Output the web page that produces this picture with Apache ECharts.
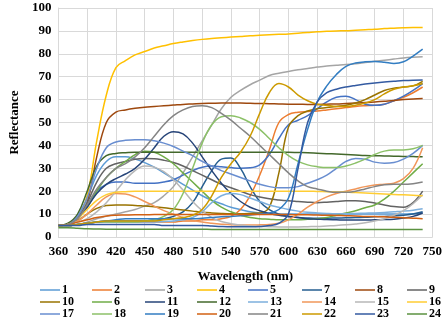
<!DOCTYPE html>
<html>
<head>
<meta charset="utf-8">
<script src="https://cdn.jsdelivr.net/npm/echarts@6/dist/echarts.min.js"></script>
<style>
  html, body { margin: 0; padding: 0; background: #fff; }
  #chart { width: 445px; height: 322px; }
</style>
</head>
<body>
<div id="chart"></div>
<script>
const wavelengths = [360,370,380,390,400,410,420,430,440,450,460,470,480,490,500,510,520,530,540,550,560,570,580,590,600,610,620,630,640,650,660,670,680,690,700,710,720,730,740]

const s1 = [5,5.5,9,17,27,33,35,35,34,32.5,30.5,28,25.5,23,20.5,18,16,14.5,13,12,11,10.5,10.2,10,10,10,10,10,10,10,10,10,10,10,10,10,10,10.2,10.5]
const s2 = [5,5,5.5,6,6.5,6.5,6.5,6.5,6.5,6.5,6.5,6.5,6.5,7,7,7.5,7.5,8,9,12,18,27,38,50,53.5,54.5,54.8,55,55.5,56,56.5,57,57.3,57.5,58,59.5,61,63,65.5]
const s3 = [5,5,5.5,6.5,8,9,10,11,12,13.5,15,18,22,28,35,42,49,56,61,64,66.5,68.5,70.5,71.5,72.3,73,73.6,74.2,74.7,75,75.3,75.7,76.2,76.7,77.2,77.7,78.2,78.5,78.7]
const s4 = [5,5.5,8,18,42,62,74,77,79.5,81,82.5,83.5,84.5,85.2,85.8,86.3,86.7,87,87.3,87.6,87.9,88.1,88.3,88.5,88.7,89,89.3,89.6,89.8,90,90.1,90.3,90.5,90.7,91,91.2,91.4,91.5,91.5]
const s5 = [5,5.5,8,14,20,23,24,24,23.5,23.5,23.5,24,25,27,29,30.5,31,30.7,30.3,30,30.2,31.5,36,43,49,51,53,56,59,61,61.5,60,58,57.5,58,59.5,61.5,64,67]
const s6 = [5,5.5,8,13,20,26,30,33,36,37.5,37,35,32,28,24,20,16,13,11,9.5,8.5,8,7.8,7.5,7.5,7.5,7.7,8,8.5,9.5,10.5,11.5,12.8,14,16.5,20,24,28,32]
const s7 = [5,5,5.5,6,6.5,7,7,7,7,7,7.5,8,9,11,15,22,29,34,34.5,30,22,15.5,12,10,9,8.5,8.3,8.2,8.2,8.3,8.4,8.5,8.6,8.8,9,9.2,9.5,10,11]
const s8 = [5,5.5,7.5,15,35,50,54.5,55.5,56.2,56.7,57,57.3,57.6,57.9,58.1,58.3,58.4,58.5,58.5,58.5,58.4,58.3,58.2,58.1,58,58,57.9,57.9,58,58.1,58.3,58.5,58.7,59,59.3,59.6,60,60.3,60.5]
const s9 = [5,5.5,8.5,15,24,30,32,33,34,34.3,34.2,33.5,32.5,31,29,27,25,23,21.5,20,18.5,17.5,16.7,16.2,15.8,15.5,15.2,15,15.2,15.5,15.8,15.8,15.5,14.8,14,13.3,13,15,20]
const s10 = [5,5.5,7,10,12.5,13.8,14,14,13.8,13.5,13.2,12.8,12.3,11.8,11.3,10.8,10.5,10.3,10.2,10.2,10.3,10.5,13,28,48,53,55,56,56.5,57,57.5,58.5,60,62,64,65,65.5,66,68]
const s11 = [5,5.5,8,13,19,23,25.5,27.5,30,34,39,44,46,45,41,35,29,23.5,19,15.5,13,11.5,10.3,9.5,9,8.5,8,7.8,7.6,7.5,7.4,7.4,7.4,7.5,7.6,7.8,8.3,9,10.5]
const s12 = [5,6,10,20,31,35.5,36.5,36.8,37,37,37,37,37,37,37,37,37,37,37,37,37,37,37,37,37,36.9,36.8,36.6,36.4,36.2,36,35.8,35.6,35.5,35.4,35.3,35.2,35.1,35]
const s13 = [5,5,5.5,6,6.5,6.5,6.5,6.5,6.5,6.5,6.5,6.8,7,7.5,8.5,11,15,18,19,18.5,17,15.5,14,13,12,11.3,10.8,10.5,10.3,10.2,10.2,10.3,10.4,10.5,10.7,11,11.3,11.7,12.3]
const s14 = [5,5.5,7,10,14,17.5,19,18.8,17.5,15.5,13.5,11.5,10,8.5,7.3,6.5,6,5.6,5.3,5.2,5.2,5.3,5.5,6,7.5,10,13,15.5,17.5,19,20,21,22,22.7,23,23.5,25.5,30,39]
const s15 = [5,5.5,6.5,8,11,15,20,25,29,31,30.5,28.5,25,20.5,15.5,11.5,8.5,6.8,5.8,5.2,4.8,4.6,4.5,4.4,4.4,4.4,4.5,4.6,4.8,5,5.3,5.7,6.2,7,8,9.5,11.5,14.5,18.5]
const s16 = [5,5.5,8,12,16,18.5,19.5,19.8,20,20,20,20,20,20,20,20,20,20,20,20,20,20,20,20,20,20,20,19.9,19.8,19.7,19.6,19.4,19.2,19,18.8,18.6,18.4,18.2,18]
const s17 = [5,5.5,9,17,30,39,41.5,42.2,42.5,42.5,42,41,39.5,37.5,35.5,33,31,29,27.5,26,24.5,23,22,21.5,21.5,22,23.5,25,27,30,33,34.3,34,32.7,32.2,32.5,34,36.5,40]
const s18 = [5,5,5.5,6,6.5,6.5,6.5,6.5,6.5,7,7.5,9,12,19,30,41,49,52.5,53,52,50,47,43,39,35.5,33,31.5,30.7,30.3,30.3,31,32.3,34,36,37.5,38,38,38.5,40]
const s19 = [5,5,5.5,6,6.5,7,7.5,8,8,8,8,8,8,8,8,8.2,8.5,8.8,9,9.3,9.6,10,10.5,12,17,32,47,59,66,71,74.5,76,76.5,76.6,76.3,75.8,76.5,79,82]
const s20 = [5,5.5,6.5,7.5,8.5,9.2,9.5,9.6,9.7,9.7,9.8,9.8,9.8,9.8,9.8,9.8,9.8,9.8,9.8,9.8,9.8,9.8,9.8,9.8,9.8,9.7,9.7,9.6,9.5,9.4,9.3,9.2,9,8.9,8.8,8.6,8.4,8.2,8]
const s21 = [5,5.5,8,14,21,26,30,32,35,39,44,49,53,55.5,57,57.3,56.5,54,51,47.5,44,40,36,32,28,24.5,22,21,20,19.5,19.5,20,21,22,22.8,23,23,23.3,24]
const s22 = [5,5,5.5,6,6.5,7,7,7,7,7,7,7.5,8,8.5,9.5,12,18,26,32,37,44,54,63,67,65.5,62,59.5,58,57.5,57,57,57.5,58.5,60,62.5,64.5,65.5,66,67]
const s23 = [5,5,5,5.5,5.5,5.5,5.5,5.5,5.5,5.5,5.5,5,5,5,5,5,4.8,4.6,4.5,4.5,4.5,4.6,5,6,10,30,50,59,63,64.5,65.5,66.2,66.8,67.3,67.7,68,68.3,68.5,68.6]
const s24 = [4,4,3.8,3.6,3.5,3.4,3.4,3.4,3.4,3.4,3.4,3.4,3.4,3.4,3.4,3.4,3.3,3.3,3.3,3.3,3.3,3.3,3.3,3.3,3.3,3.3,3.3,3.3,3.3,3.3,3.3,3.3,3.3,3.3,3.3,3.3,3.3,3.3,3.3]

const seriesValues = [s1,s2,s3,s4,s5,s6,s7,s8,s9,s10,s11,s12,s13,s14,s15,s16,s17,s18,s19,s20,s21,s22,s23,s24]
const seriesColors = ['#5B9BD5','#ED7D31','#A5A5A5','#FFC000','#4472C4','#70AD47','#255E91','#9E480E','#636363','#997300','#264478','#43682B',
  '#7CAFDD','#F1975A','#B7B7B7','#FFCD33','#698ED0','#8CC168','#327DC2','#D26012','#848484','#CC9A00','#335AA1','#5B9240']
// drawing order as in the legend
const drawOrder = [1,2,3,4,5,7,8,9,10,6,11,12,13,14,15,16,17,18,19,20,21,22,23,24]
const legendColumns = [['1','10','17'],['2','6','18'],['3','11','19'],['4','12','20'],['5','13','21'],['7','14','22'],['8','15','23'],['9','16','24']]
const legendLeft = [40,92,145,197,248,302,355,407]

const font = 'Liberation Serif'

const chart = echarts.init(document.getElementById('chart'), null, { renderer: 'canvas' })

const series = drawOrder.map(n => ({
  name: String(n),
  type: 'line',
  smooth: 0.4,
  symbol: 'none',
  data: wavelengths.map((w, i) => [w, seriesValues[n - 1][i]]),
  lineStyle: { width: 1.5, color: seriesColors[n - 1] },
  itemStyle: { color: seriesColors[n - 1] }
}))

const legends = legendColumns.map((col, i) => ({
  orient: 'vertical',
  left: legendLeft[i],
  top: 284,
  padding: 0,
  itemGap: 0,
  icon: 'rect',
  itemWidth: 20,
  itemHeight: 1.5,
  data: col,
  textStyle: { fontFamily: font, fontWeight: 'bold', fontSize: 12, color: '#000', lineHeight: 11.5, padding: [0, 0, 0, -3] }
}))

chart.setOption({
  animation: false,
  backgroundColor: '#fff',
  legend: legends,
  grid: { left: 49, right: 12, top: 8, bottom: 85 },
  xAxis: {
    type: 'value',
    min: 360,
    max: 750,
    interval: 30,
    name: 'Wavelength (nm)',
    nameLocation: 'middle',
    nameGap: 33,
    nameTextStyle: { fontFamily: font, fontWeight: 'bold', fontSize: 13, color: '#000' },
    axisLine: { lineStyle: { color: '#d9d9d9' } },
    axisTick: { show: false },
    axisLabel: { fontFamily: font, fontWeight: 'bold', fontSize: 13, color: '#000', margin: 8 },
    splitLine: { lineStyle: { color: '#d9d9d9' } }
  },
  yAxis: {
    type: 'value',
    min: 0,
    max: 100,
    interval: 10,
    name: 'Reflectance',
    nameLocation: 'middle',
    nameGap: 34,
    nameTextStyle: { fontFamily: font, fontWeight: 'bold', fontSize: 13, color: '#000' },
    axisLine: { show: true, lineStyle: { color: '#d9d9d9' } },
    axisTick: { show: false },
    axisLabel: { fontFamily: font, fontWeight: 'bold', fontSize: 13, color: '#000', margin: 7 },
    splitLine: { lineStyle: { color: '#d9d9d9' } }
  },
  series: series
})
</script>
</body>
</html>
